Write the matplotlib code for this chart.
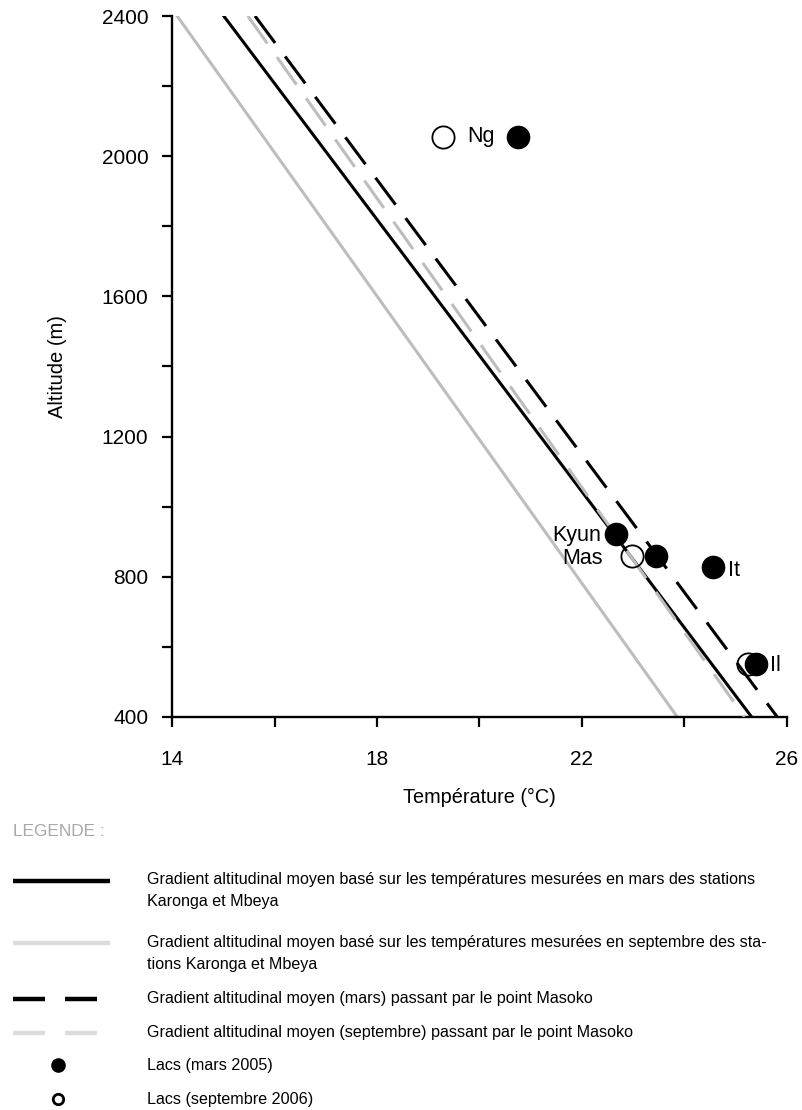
import matplotlib
matplotlib.use('Agg')
import matplotlib.pyplot as plt
from matplotlib.lines import Line2D
from matplotlib.ticker import MultipleLocator

# altitudes (m) at the two ends of each gradient line
line_alt = [2400, 400]
# temperatures (deg C) of each gradient at those altitudes
grad_mars = [15.01, 25.31]
grad_sept = [14.10, 23.86]
grad_mars_masoko = [15.62, 25.81]
grad_sept_masoko = [15.48, 25.17]

# lakes measured in march 2005 (filled dots)
mars_lakes = ['Ng', 'Kyun', 'Mas', 'It', 'Il']
mars_temp = [20.76, 22.67, 23.45, 24.55, 25.40]
mars_alt = [2055, 921, 860, 827, 550]

# lakes measured in september 2006 (open dots)
sept_lakes = ['Ng', 'Mas', 'Il']
sept_temp = [19.28, 22.97, 25.23]
sept_alt = [2055, 860, 550]

xticks = [14, 18, 22, 26]
yticks = [400, 800, 1200, 1600, 2000, 2400]

legend_labels = [
    "Gradient altitudinal moyen basé sur les températures mesurées en mars des stations\nKaronga et Mbeya",
    "Gradient altitudinal moyen basé sur les températures mesurées en septembre des sta-\ntions Karonga et Mbeya",
    "Gradient altitudinal moyen (mars) passant par le point Masoko",
    "Gradient altitudinal moyen (septembre) passant par le point Masoko",
    "Lacs (mars 2005)",
    "Lacs (septembre 2006)",
]

W, H = 803, 1110
ARIAL = ['Liberation Sans', 'DejaVu Sans']
GREY = '#bdbdbd'
LEG_GREY = '#dcdcdc'


def fx(x):
    return x / W


def fy(y):
    return 1 - y / H


def main():
    plt.rcParams['font.family'] = ARIAL
    fig = plt.figure(figsize=(W / 100, H / 100), dpi=100)
    ax = fig.add_axes([fx(172), fy(717), 615 / W, 701 / H])

    lw = 2.2
    ax.plot(grad_sept, line_alt, color=GREY, lw=lw, zorder=1)
    ax.plot(grad_mars, line_alt, color='black', lw=lw, zorder=2)
    ax.plot(grad_sept_masoko, line_alt, color=GREY, lw=lw, dashes=(11, 5.5), zorder=3)
    ax.plot(grad_mars_masoko, line_alt, color='black', lw=lw, dashes=(11, 5.5), zorder=3)

    ax.plot(sept_temp, sept_alt, 'o', ms=16, mfc='none', mec='black', mew=1.3,
            zorder=4, clip_on=False)
    ax.plot(mars_temp, mars_alt, 'o', ms=16, color='black', zorder=5, clip_on=False)

    # lake names
    mars = dict(zip(mars_lakes, zip(mars_temp, mars_alt)))
    sept = dict(zip(sept_lakes, zip(sept_temp, sept_alt)))
    fs_pt = 15.5
    ng_x = (mars['Ng'][0] + sept['Ng'][0]) / 2
    ax.text(ng_x, mars['Ng'][1], 'Ng', ha='center', va='center', fontsize=fs_pt)
    ax.annotate('Kyun', mars['Kyun'], xytext=(-11, -1), textcoords='offset points',
                ha='right', va='center', fontsize=fs_pt)
    ax.annotate('Mas', sept['Mas'], xytext=(-21, -2), textcoords='offset points',
                ha='right', va='center', fontsize=fs_pt)
    ax.annotate('It', mars['It'], xytext=(11, -2), textcoords='offset points',
                ha='left', va='center', fontsize=fs_pt)
    ax.annotate('Il', mars['Il'], xytext=(10, -1), textcoords='offset points',
                ha='left', va='center', fontsize=fs_pt)

    ax.set_xlim(14, 26)
    ax.set_ylim(400, 2400)
    ax.set_xticks(xticks)
    ax.set_yticks(yticks)
    ax.xaxis.set_minor_locator(MultipleLocator(2))
    ax.yaxis.set_minor_locator(MultipleLocator(200))
    ax.tick_params(which='both', direction='out', length=7, width=1.6)
    ax.tick_params(axis='x', pad=16.5, labelsize=15)
    ax.tick_params(axis='y', pad=10, labelsize=15)
    for s in ['top', 'right']:
        ax.spines[s].set_visible(False)
    for s in ['left', 'bottom']:
        ax.spines[s].set_linewidth(1.7)

    ax.set_ylabel('Altitude (m)', fontsize=14.5)
    ax.yaxis.set_label_coords(-0.171, 0.5)
    ax.set_xlabel('Température (°C)', fontsize=14.3, labelpad=14)

    # legend below the chart
    fig.text(fx(13), fy(832), 'LEGENDE :', color='#a8a8a8',
             fontsize=12.4, va='center', ha='left')
    rows = [881, 943, 999, 1033, 1065, 1099]
    # baseline of the last text line of each entry
    text_base = [906, 969, 1003, 1037, 1070, 1104]
    styles = [
        dict(color='black', lw=3.2),
        dict(color=LEG_GREY, lw=3.2),
        dict(color='black', lw=3.2, dashes=(7.2, 4.5)),
        dict(color=LEG_GREY, lw=3.2, dashes=(7.2, 4.5)),
    ]
    for i, st in enumerate(styles):
        x1 = 110 if i < 2 else 97
        fig.add_artist(Line2D([fx(13), fx(x1)], [fy(rows[i]), fy(rows[i])],
                              transform=fig.transFigure, solid_capstyle='butt',
                              dash_capstyle='butt', **st))
    fig.add_artist(Line2D([fx(58)], [fy(rows[4])], transform=fig.transFigure,
                          marker='o', ms=9.5, color='black', ls='none'))
    fig.add_artist(Line2D([fx(58)], [fy(rows[5])], transform=fig.transFigure,
                          marker='o', ms=7.5, mfc='none', mec='black', mew=2, ls='none'))
    for lab, yb in zip(legend_labels, text_base):
        fig.text(fx(147), fy(yb), lab, fontsize=11.6, va='baseline',
                 ha='left', linespacing=1.58)

    fig.savefig('out.png', dpi=100)


if __name__ == '__main__':
    main()
